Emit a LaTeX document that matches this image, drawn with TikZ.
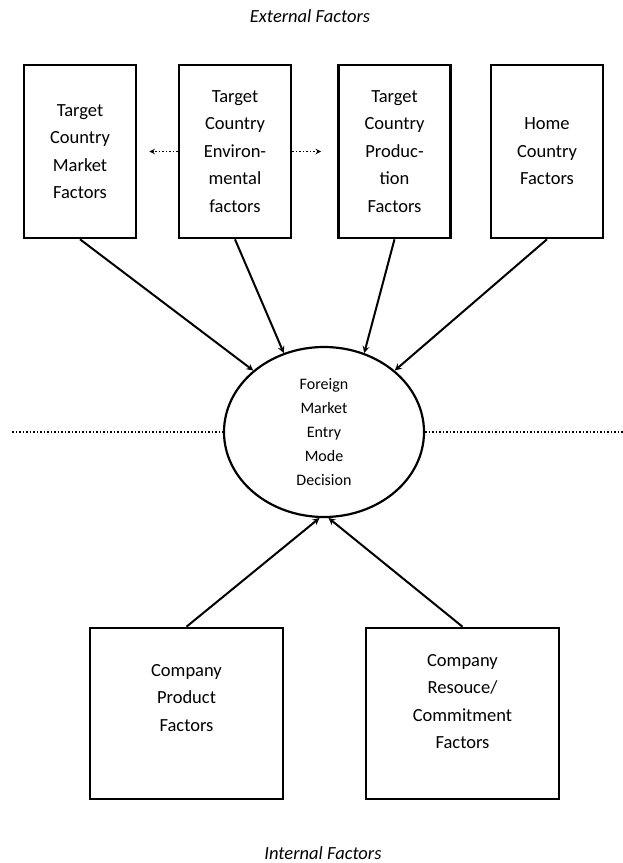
\documentclass[tikz,border=0pt]{standalone}
\usepackage{fontspec}
\setmainfont{Carlito}
\usetikzlibrary{positioning,shapes.geometric}

\begin{document}
\begin{tikzpicture}[x=1pt,y=-1pt,->,>=stealth,line width=2pt,node distance=155pt,
    box node/.style={rectangle,draw,line width=2.6pt,minimum width=112pt,minimum height=173pt,inner sep=0pt,align=center,font=\fontsize{18.5}{27.5}\selectfont},
    low node/.style={rectangle,draw,line width=2.6pt,minimum width=193pt,minimum height=171pt,inner sep=0pt},
    text node/.style={align=center,font=\fontsize{18.5}{27.5}\selectfont},
    main node/.style={ellipse,draw,line width=2.2pt,minimum width=200pt,minimum height=170pt,inner sep=0pt,align=center,font=\fontsize{16}{24}\selectfont},
    title node/.style={font=\fontsize{18.5}{22}\selectfont\itshape}]
            \useasboundingbox (0,0) rectangle (623,863);

            \node[title node] (0) at (310,16) {External Factors};
            \node[box node] (11) at (80,151.5) {Target\\Country\\Market\\Factors};
            \node[box node] (12) [right of = 11] {Target\\Country\\Environ-\\mental\\factors};
            \node[box node] (13) [right of = 12, xshift = 4.5] {Target\\Country\\Produc-\\tion\\Factors};
            \node[box node] (14) [right of = 13, xshift = -2.5] {Home\\Country\\Factors};

            \node[main node] (2) at (324,432) {Foreign\\Market\\Entry\\Mode\\Decision};
            \coordinate (2l) at (12,432);
            \coordinate (2r) at (623,432);

            \node[low node] (31) at (186.5,713.5) {};
            \node[low node] (32) [right of = 31, node distance = 276pt] {};
            \node[text node] (31t) at (186.5,698) {Company\\Product\\Factors};
            \node[text node] (32t) at (462.5,701.5) {Company\\Resouce/\\Commitment\\Factors};

            \node[title node] (4) at (323,853) {Internal Factors};

            \path
                (11.south) edge (2.139)
                (12.south) edge (2.117)
                (13.south) edge (2.63)
                (14.south) edge (2.41)
                (31.north) edge (2.267)
                (32.north) edge (2.273)
            ;
            \path[dotted,line width=1.5pt]
                (12.west) edge[shorten >=12pt] (11.east)
                (12.east) edge[shorten >=16pt] (13.west)
                (2l) edge[-] (2.west)
                (2.east) edge[-] (2r)
            ;
        \end{tikzpicture}
\end{document}
